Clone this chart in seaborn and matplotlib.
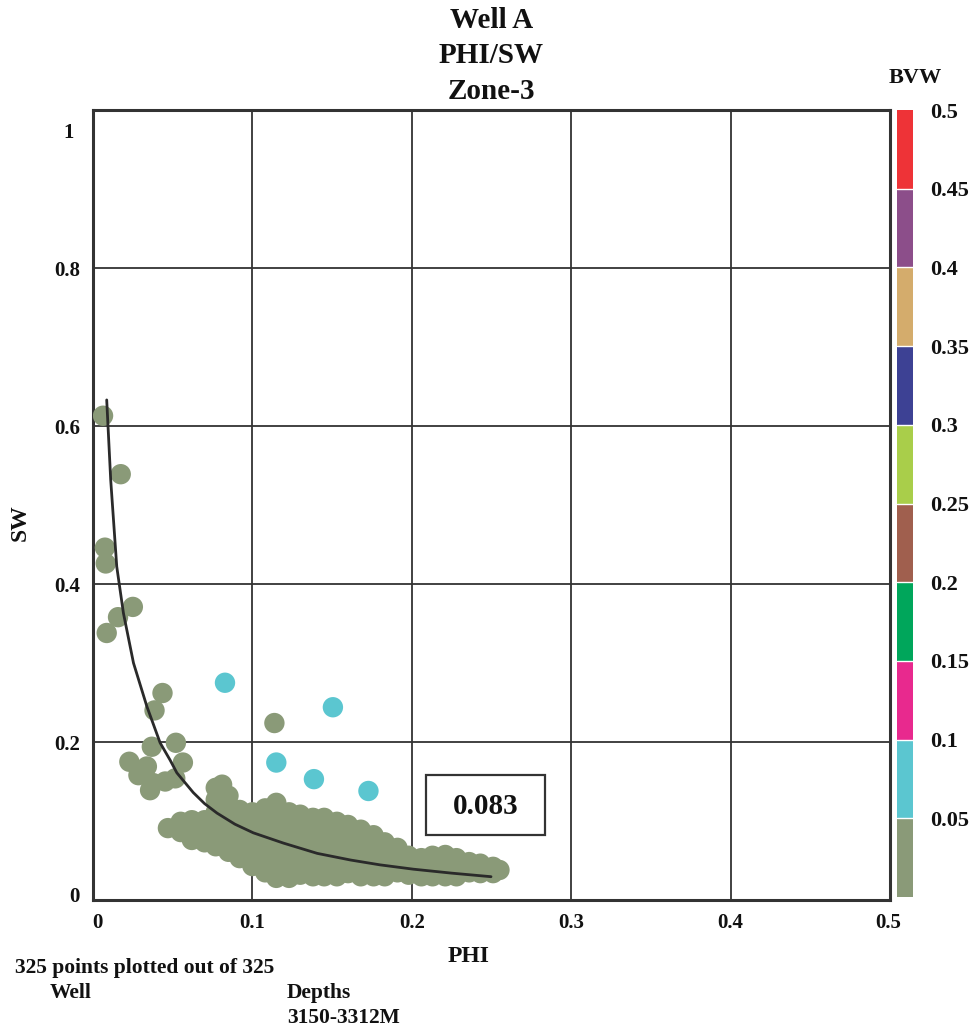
import matplotlib
matplotlib.use("Agg")
import matplotlib.pyplot as plt
import matplotlib.colors as mcolors
import matplotlib.patches as mpatches
import matplotlib.transforms as mtransforms
import numpy as np
import pandas as pd
import seaborn as sns

# ---------------- data ----------------
# scattered low-BVW points (PHI, SW)
SCAT_PHI = [0.0063, 0.0174, 0.0075, 0.0080, 0.0250, 0.0157, 0.0086, 0.0436, 0.0386,
            0.0520, 0.0369, 0.0564, 0.0228, 0.0338, 0.0285, 0.0377, 0.0453, 0.0516,
            0.0358, 0.0810, 0.1138]
SCAT_SW = [0.613, 0.539, 0.446, 0.426, 0.371, 0.358, 0.338, 0.262, 0.240,
           0.199, 0.194, 0.174, 0.175, 0.169, 0.158, 0.148, 0.150, 0.154,
           0.139, 0.146, 0.224]

# dense cluster, read column by column (PHI of column, SW values in it)
BLOB_PHI = [0.047, 0.055, 0.062, 0.070, 0.077, 0.085, 0.092, 0.100, 0.108, 0.115,
            0.123, 0.130, 0.138, 0.145, 0.153, 0.160, 0.168, 0.176, 0.183, 0.191,
            0.198, 0.206, 0.213, 0.221, 0.228, 0.236, 0.243, 0.251, 0.255]
BLOB_SW = [
    [0.091],
    [0.099, 0.086],
    [0.101, 0.086, 0.076],
    [0.101, 0.086, 0.073],
    [0.142, 0.127, 0.111, 0.096, 0.081, 0.068],
    [0.132, 0.116, 0.101, 0.086, 0.071, 0.061],
    [0.114, 0.099, 0.084, 0.068, 0.053],
    [0.111, 0.096, 0.081, 0.066, 0.051, 0.043],
    [0.116, 0.101, 0.086, 0.071, 0.056, 0.041, 0.035],
    [0.123, 0.111, 0.096, 0.081, 0.066, 0.051, 0.035, 0.028],
    [0.111, 0.096, 0.081, 0.066, 0.051, 0.035, 0.028],
    [0.108, 0.092, 0.077, 0.062, 0.047, 0.032],
    [0.104, 0.089, 0.073, 0.058, 0.043, 0.030],
    [0.104, 0.089, 0.073, 0.058, 0.043, 0.030],
    [0.099, 0.084, 0.068, 0.053, 0.038, 0.030],
    [0.095, 0.080, 0.065, 0.049, 0.034],
    [0.089, 0.073, 0.058, 0.043, 0.030],
    [0.082, 0.067, 0.052, 0.037, 0.030],
    [0.073, 0.058, 0.043, 0.030],
    [0.066, 0.051, 0.035],
    [0.056, 0.043, 0.032],
    [0.053, 0.041, 0.030],
    [0.056, 0.043, 0.030],
    [0.057, 0.043, 0.030],
    [0.053, 0.041, 0.030],
    [0.048, 0.035],
    [0.046, 0.034],
    [0.042, 0.034],
    [0.038],
]

# higher-BVW (0.05-0.1 class) points
HI_PHI = [0.0828, 0.1505, 0.1150, 0.1386, 0.1728]
HI_SW = [0.275, 0.244, 0.174, 0.153, 0.138]
HI_BVW = [0.07, 0.07, 0.07, 0.07, 0.07]

# constant-BVW reference curve
CURVE_PHI = [0.0086, 0.0111, 0.0149, 0.0191, 0.0254, 0.0338, 0.0421, 0.0484, 0.0526,
             0.0629, 0.0700, 0.0778, 0.0890, 0.1006, 0.1195, 0.1407, 0.1616, 0.1800,
             0.2010, 0.2250, 0.2497]
CURVE_SW = [0.633, 0.532, 0.422, 0.363, 0.300, 0.245, 0.199, 0.177, 0.161,
            0.136, 0.122, 0.110, 0.096, 0.085, 0.072, 0.059, 0.0506, 0.0445,
            0.039, 0.034, 0.0295]

BVW_BOUNDS = [0.0, 0.05, 0.1, 0.15, 0.2, 0.25, 0.3, 0.35, 0.4, 0.45, 0.5]
BVW_TICKS = [0.05, 0.1, 0.15, 0.2, 0.25, 0.3, 0.35, 0.4, 0.45, 0.5]
BVW_TICKLABELS = ["0.05", "0.1", "0.15", "0.2", "0.25", "0.3", "0.35", "0.4", "0.45", "0.5"]
BVW_COLORS = ["#8A9A78", "#5BC6D0", "#E8298E", "#00A65B", "#A05F4E",
              "#A9CE4A", "#3D4194", "#D4AC6C", "#8C4E8A", "#EE3337"]

X_TICKS = [0, 0.1, 0.2, 0.3, 0.4, 0.5]
X_TICKLABELS = ["0", "0.1", "0.2", "0.3", "0.4", "0.5"]
Y_TICKS = [0, 0.2, 0.4, 0.6, 0.8, 1.0]
Y_TICKLABELS = ["0", "0.2", "0.4", "0.6", "0.8", "1"]

CUTOFF_LABEL = "0.083"

# ---------------- build table ----------------
rows = []
for p, s in zip(SCAT_PHI, SCAT_SW):
    rows.append((p, s, p * s))
for p, col in zip(BLOB_PHI, BLOB_SW):
    for s in col:
        rows.append((p, s, p * s))
for p, s, b in zip(HI_PHI, HI_SW, HI_BVW):
    rows.append((p, s, b))
df = pd.DataFrame(rows, columns=["PHI", "SW", "BVW"])

# ---------------- style ----------------
sns.set_theme(style="white")
plt.rcParams["font.family"] = ["Liberation Serif", "DejaVu Serif"]
plt.rcParams["font.weight"] = "bold"

W, H = 976, 1030
fig = plt.figure(figsize=(W / 100, H / 100), dpi=100)
ax = fig.add_axes([93 / W, 1 - 900 / H, 797 / W, 790 / H])

cmap = mcolors.ListedColormap(BVW_COLORS)
norm = mcolors.BoundaryNorm(BVW_BOUNDS, cmap.N)

sns.scatterplot(data=df, x="PHI", y="SW", hue="BVW", palette=cmap, hue_norm=norm,
                s=215, linewidth=0, legend=False, ax=ax, zorder=3)
sns.lineplot(x=CURVE_PHI, y=CURVE_SW, sort=False, estimator=None, color="#2a2a2a",
             linewidth=2.0, ax=ax, zorder=4)

ax.set_xlim(0, 0.5)
ax.set_ylim(0, 1)
ax.set_xticks(X_TICKS)
ax.set_xticklabels(X_TICKLABELS)
ax.set_yticks(Y_TICKS)
ax.set_yticklabels(Y_TICKLABELS)
ax.tick_params(axis="both", length=0, labelsize=15, colors="#111111")
ax.tick_params(axis="x", pad=9)
ax.tick_params(axis="y", pad=9.5)
for lab in ax.get_xticklabels() + ax.get_yticklabels():
    lab.set_fontweight("bold")
ax.grid(True, color="#333333", linewidth=1.3, zorder=1)
ax.set_axisbelow(True)
for sp in ax.spines.values():
    sp.set_color("#333333")
    sp.set_linewidth(2.2)

# small label nudges as in the reference
ylabs = ax.get_yticklabels()
ylabs[-1].set_transform(ylabs[-1].get_transform()
                        + mtransforms.ScaledTranslation(-0.06, -0.20, fig.dpi_scale_trans))
ylabs[0].set_transform(ylabs[0].get_transform()
                       + mtransforms.ScaledTranslation(0, 0.06, fig.dpi_scale_trans))
xlabs = ax.get_xticklabels()
xlabs[0].set_transform(xlabs[0].get_transform()
                       + mtransforms.ScaledTranslation(0.04, 0, fig.dpi_scale_trans))
xlabs[-1].set_transform(xlabs[-1].get_transform()
                        + mtransforms.ScaledTranslation(-0.02, 0, fig.dpi_scale_trans))

ax.set_xlabel("PHI", fontsize=17, fontweight="bold", color="#111111")
ax.xaxis.set_label_coords((469 - 93) / 797, -(946 - 900) / 790)
ax.set_ylabel("SW", fontsize=17, fontweight="bold", color="#111111")
ax.yaxis.set_label_coords((31 - 93) / 797, 0.478)

ax.set_title("Well A\nPHI/SW\nZone-3", fontsize=21, fontweight="bold",
             linespacing=1.4, pad=8, color="#111111")

# cutoff value box
ax.add_patch(mpatches.Rectangle(((426 - 93) / 797, (900 - 835) / 790), 119 / 797, 60 / 790,
                                transform=ax.transAxes, fill=True, facecolor="white",
                                edgecolor="#333333", linewidth=1.6, zorder=5))
ax.text((486 - 93) / 797, (900 - 806) / 790, CUTOFF_LABEL, transform=ax.transAxes,
        ha="center", va="center", fontsize=21, fontweight="bold", color="#111111", zorder=6)

# colour bar
cax = fig.add_axes([897 / W, 1 - 897 / H, 16 / W, 787 / H])
sm = matplotlib.cm.ScalarMappable(norm=norm, cmap=cmap)
cb = fig.colorbar(sm, cax=cax, ticks=BVW_TICKS, drawedges=False)
cb.outline.set_visible(False)
for b in BVW_BOUNDS[1:-1]:
    cax.axhline(b, color="white", linewidth=1.0)
cb.ax.minorticks_off()
cb.ax.set_yticklabels(BVW_TICKLABELS)
cb.ax.tick_params(length=0, labelsize=16, pad=12, colors="#111111")
for lab in cb.ax.get_yticklabels():
    lab.set_fontweight("bold")
fig.text(915 / W, 1 - 78 / H, "BVW", ha="center", va="center", fontsize=16,
         fontweight="bold", color="#111111")

# footer texts
fig.text(15 / W, 1 - 968 / H, "325 points plotted out of 325", ha="left", va="center",
         fontsize=15.5, fontweight="bold", color="#111111")
fig.text(50 / W, 1 - 993 / H, "Well", ha="left", va="center", fontsize=15.5,
         fontweight="bold", color="#111111")
fig.text(287 / W, 1 - 993 / H, "Depths", ha="left", va="center", fontsize=15.5,
         fontweight="bold", color="#111111")
fig.text(287 / W, 1 - 1018 / H, "3150-3312M", ha="left", va="center", fontsize=15.5,
         fontweight="bold", color="#111111")

fig.savefig("out.png", dpi=100)
